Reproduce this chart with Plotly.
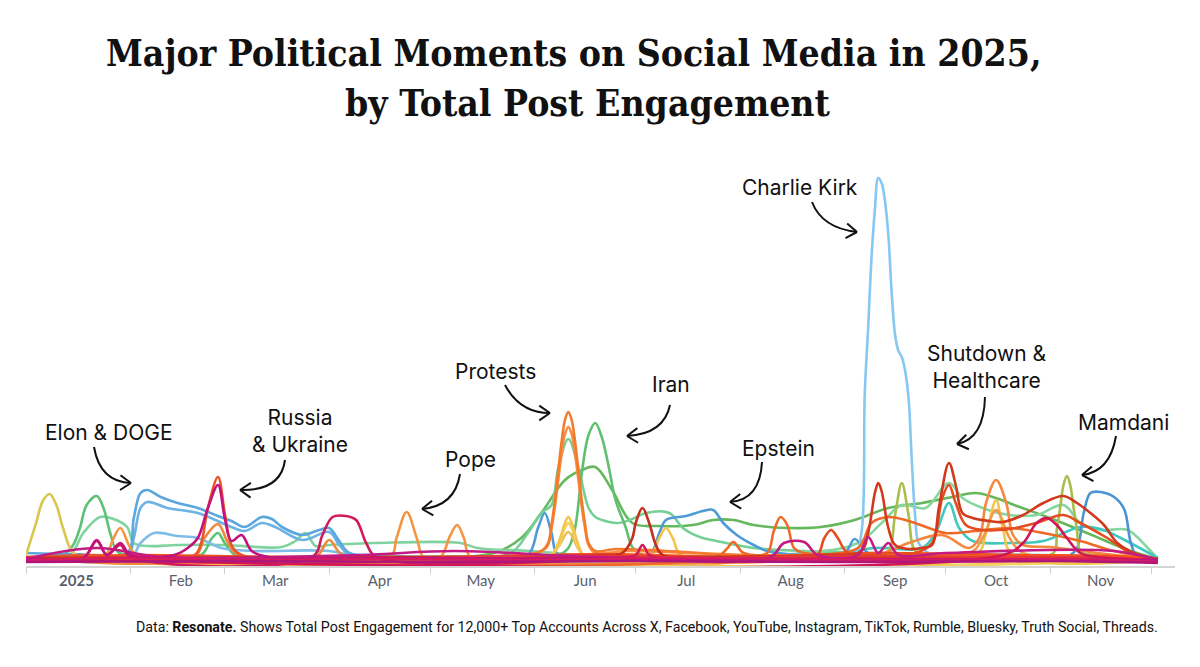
import math
import plotly.graph_objects as go

# ---- data: engagement index per topic (dates are 2025 "MM-DD") ----
kirk_d = ["01-01", "03-01", "05-01", "07-01", "08-20", "09-04", "09-06", "09-07", "09-08", "09-09", "09-10",
          "09-11", "09-12", "09-13", "09-14", "09-15", "09-16", "09-17", "09-18", "09-19", "09-20", "09-21",
          "09-22", "09-23", "09-26", "10-10", "11-10", "12-03"]
kirk_v = [5, 6, 5, 6, 6, 9, 30, 170, 235, 305, 353, 385, 380, 362, 328, 270, 228, 212, 206, 192, 165, 100,
          45, 20, 10, 9, 7, 3]

doge_a_d = ["01-01", "01-15", "01-31", "02-02", "02-04", "02-06", "02-10", "02-15", "02-21", "02-27", "03-03",
            "03-07", "03-12", "03-15", "03-18", "03-24", "03-29", "04-01", "04-04", "04-07", "04-20", "06-01",
            "09-01", "12-03"]
doge_a_v = [10, 9, 10, 45, 70, 73, 66, 60, 55, 47, 42, 36, 46, 44, 36, 28, 33, 35, 22, 10, 7, 6, 6, 3]
doge_b_d = ["01-01", "01-31", "02-02", "02-04", "02-06", "02-12", "02-21", "03-03", "03-07", "03-12", "03-16",
            "03-24", "04-01", "04-04", "04-08", "05-01", "12-03"]
doge_b_v = [6, 6, 25, 55, 61, 55, 50, 36, 32, 40, 36, 23, 31, 18, 6, 5, 3]
doge_c_d = ["01-01", "02-01", "02-04", "02-08", "02-15", "02-21", "02-28", "03-10", "04-01", "04-10", "05-01", "12-03"]
doge_c_v = [5, 5, 20, 30, 27, 25, 15, 12, 12, 6, 5, 3]

yellow_jan_d = ["01-01", "01-04", "01-06", "01-08", "01-10", "01-12", "01-15", "01-20", "03-01", "06-01", "12-03"]
yellow_jan_v = [8, 40, 62, 69, 58, 35, 10, 5, 4, 4, 2]

green_jan_d = ["01-01", "01-12", "01-15", "01-17", "01-19", "01-22", "01-24", "01-26", "01-28", "02-02", "02-22",
               "02-25", "02-27", "03-01", "03-05", "04-01", "12-03"]
green_jan_v = [5, 8, 18, 35, 58, 67, 55, 30, 12, 6, 8, 24, 30, 20, 6, 5, 3]

lgreen_jan_d = ["01-01", "01-14", "01-18", "01-23", "01-27", "01-31", "02-02", "02-06", "02-15", "03-01", "03-18",
                "03-22", "03-25", "03-28", "04-01", "04-15", "05-10", "05-15", "05-31", "06-15", "07-15", "12-03"]
lgreen_jan_v = [4, 8, 30, 46, 44, 36, 20, 17, 18, 18, 16, 22, 30, 17, 18, 20, 20, 15, 12, 8, 6, 3]

pope_d = ["01-01", "01-24", "01-27", "01-29", "02-01", "02-04", "04-19", "04-21", "04-24", "04-27", "04-29",
          "05-04", "05-07", "05-09", "05-11", "05-13", "06-01", "12-03"]
pope_v = [5, 6, 25, 35, 15, 5, 6, 25, 51, 25, 6, 6, 28, 38, 25, 6, 5, 3]

russia_d = ["01-01", "01-20", "02-20", "02-22", "02-24", "02-27", "03-01", "03-03", "03-06", "04-01", "12-03"]
russia_v = [6, 8, 8, 20, 55, 86, 50, 18, 8, 6, 3]
russia_mag_d = ["01-01", "01-18", "01-22", "01-25", "01-29", "02-01", "02-14", "02-18", "02-21", "02-24", "02-27",
                "03-01", "03-03", "03-06", "03-09", "03-14", "04-15", "12-03"]
russia_mag_v = [5, 5, 23, 8, 20, 8, 8, 15, 25, 55, 78, 45, 22, 28, 12, 6, 5, 3]
russia_or_d = ["01-01", "02-20", "02-23", "02-27", "03-02", "03-05", "03-28", "04-01", "04-05", "05-01", "12-03"]
russia_or_v = [5, 6, 25, 39, 20, 8, 6, 23, 8, 5, 3]

crimson_d = ["01-01", "01-18", "01-22", "01-25", "01-29", "02-01", "03-27", "03-30", "04-02", "04-06", "04-09",
             "04-12", "04-15", "06-25", "07-01", "07-03", "07-05", "07-08", "12-03"]
crimson_v = [4, 5, 22, 8, 18, 6, 6, 28, 46, 47, 43, 20, 6, 5, 8, 18, 8, 5, 3]

green_long_d = ["01-01", "05-01", "05-20", "05-28", "06-03", "06-10", "06-15", "06-19", "06-24", "06-30", "07-08",
                "07-18", "07-24", "07-30", "08-05", "08-15", "08-25", "09-04", "09-14", "09-24", "10-03", "10-10",
                "10-15", "10-23", "11-01", "11-12", "11-25", "12-03"]
green_long_v = [4, 6, 10, 25, 50, 83, 93, 96, 73, 40, 37, 38, 43, 43, 38, 35, 36, 43, 55, 60, 66, 70, 66, 56, 45,
                30, 12, 4]

iran_d = ["01-01", "05-01", "06-08", "06-11", "06-13", "06-15", "06-17", "06-19", "06-21", "06-23", "06-25",
          "06-28", "06-30", "07-03", "08-01", "12-03"]
iran_v = [4, 5, 8, 15, 35, 90, 128, 140, 125, 96, 63, 36, 16, 8, 5, 3]

protest1_d = ["01-01", "03-01", "05-01", "05-28", "06-03", "06-05", "06-06", "06-07", "06-08", "06-09", "06-10",
              "06-11", "06-12", "06-13", "06-14", "06-15", "06-16", "06-17", "06-19", "06-25", "07-10", "08-01",
              "09-01", "10-01", "11-01", "12-03"]
protest1_v = [5, 6, 6, 8, 12, 20, 38, 62, 92, 121, 143, 151, 143, 121, 92, 62, 38, 20, 12, 14, 12, 8, 8, 8, 6, 3]
protest2_d = ["01-01", "05-01", "05-30", "06-04", "06-05", "06-06", "06-07", "06-08", "06-09", "06-10", "06-11",
              "06-12", "06-13", "06-14", "06-15", "06-16", "06-17", "06-19", "06-28", "08-01", "10-01", "12-03"]
protest2_v = [5, 5, 8, 14, 18, 34, 56, 83, 109, 129, 136, 129, 109, 83, 56, 34, 18, 10, 12, 8, 7, 3]
protest_lg_d = ["01-01", "05-15", "05-25", "05-30", "06-03", "06-06", "06-08", "06-11", "06-14", "06-17", "06-19",
                "06-22", "06-26", "06-30", "07-04", "07-11", "07-15", "07-20", "07-25", "08-05", "08-20", "09-10",
                "12-03"]
protest_lg_v = [4, 6, 10, 30, 50, 58, 95, 124, 95, 55, 46, 42, 40, 44, 50, 50, 35, 26, 22, 15, 12, 10, 4]

yellow1_d = ["01-01", "06-05", "06-08", "06-10", "06-11", "06-12", "06-14", "06-16", "07-05", "07-08", "07-10",
             "07-12", "07-15", "10-10", "10-13", "10-16", "10-18", "10-21", "12-03"]
yellow1_v = [4, 6, 20, 40, 46, 40, 18, 6, 6, 25, 35, 25, 6, 8, 30, 63, 35, 8, 3]
yellow2_d = ["01-01", "06-05", "06-08", "06-10", "06-11", "06-12", "06-14", "06-16", "12-03"]
yellow2_v = [4, 6, 18, 35, 40, 35, 16, 6, 3]
yellow3_d = ["01-01", "06-05", "06-08", "06-11", "06-14", "06-16", "12-03"]
yellow3_v = [4, 6, 16, 31, 14, 6, 3]

darkred_d = ["01-01", "06-20", "06-27", "06-30", "07-01", "07-03", "07-05", "07-07", "07-09", "08-01", "12-03"]
darkred_v = [5, 8, 10, 25, 40, 55, 40, 18, 8, 6, 3]

epstein_d = ["01-01", "05-20", "05-30", "06-02", "06-04", "06-06", "06-08", "06-20", "07-05", "07-08", "07-10",
             "07-16", "07-21", "07-24", "07-27", "07-31", "08-05", "08-09", "08-20", "09-01", "09-04", "09-08",
             "09-15", "10-15", "12-03"]
epstein_v = [4, 5, 8, 35, 50, 30, 8, 6, 8, 30, 43, 47, 52, 53, 40, 28, 18, 12, 8, 10, 24, 10, 8, 6, 3]

blue_nov_d = ["01-01", "10-15", "11-06", "11-09", "11-11", "11-13", "11-16", "11-20", "11-23", "11-25", "11-27",
              "12-03"]
blue_nov_v = [4, 5, 6, 15, 50, 70, 71, 66, 54, 20, 6, 3]

shutdown_d = ["01-01", "03-01", "06-01", "08-25", "09-06", "09-08", "09-10", "09-11", "09-12", "09-14", "09-16",
              "09-20", "09-24", "09-27", "09-29", "10-02", "10-04", "10-06", "10-09", "10-14", "10-18", "10-24",
              "10-30", "11-05", "11-09", "11-13", "11-17", "11-21", "11-26", "12-03"]
shutdown_v = [5, 6, 6, 8, 12, 30, 70, 80, 72, 35, 18, 14, 15, 18, 55, 100, 78, 50, 45, 42, 41, 48, 60, 67, 60,
              50, 38, 20, 10, 4]
shutdown2_d = ["01-01", "08-20", "08-24", "08-26", "08-28", "08-30", "09-02", "09-15", "09-22", "09-27", "09-30",
               "10-02", "10-04", "10-07", "10-12", "10-20", "10-28", "11-05", "11-10", "11-18", "11-25", "12-03"]
shutdown2_v = [5, 6, 8, 25, 33, 25, 10, 10, 10, 20, 65, 78, 60, 38, 33, 34, 40, 48, 40, 25, 10, 4]

orange_aug_d = ["01-01", "07-25", "07-28", "07-30", "08-02", "08-09", "08-11", "08-13", "08-15", "08-17", "08-20",
                "09-05", "09-09", "09-14", "09-20", "09-26", "10-01", "10-10", "10-20", "10-30", "11-10", "11-20",
                "12-03"]
orange_aug_v = [5, 6, 14, 21, 10, 10, 32, 46, 38, 15, 10, 15, 40, 46, 42, 35, 30, 32, 35, 30, 22, 12, 4]

orange_oct_d = ["01-01", "09-10", "09-20", "09-30", "10-08", "10-11", "10-13", "10-16", "10-19", "10-21", "10-24",
                "11-01", "11-15", "12-03"]
orange_oct_v = [5, 8, 20, 28, 15, 25, 60, 83, 60, 28, 18, 16, 10, 3]
orange_oct2_d = ["01-01", "10-08", "10-12", "10-16", "10-20", "10-24", "12-03"]
orange_oct2_v = [5, 10, 25, 53, 25, 10, 3]

olive_d = ["01-01", "09-10", "09-14", "09-16", "09-18", "09-20", "09-22", "09-27", "10-20", "11-02", "11-03",
           "11-04", "11-05", "11-06", "11-07", "11-08", "11-09", "11-10", "11-14", "12-03"]
olive_v = [4, 8, 12, 48, 80, 48, 12, 8, 8, 10, 33, 55, 78, 87, 78, 55, 33, 12, 8, 3]

cyan_d = ["01-01", "08-20", "09-10", "09-24", "09-28", "10-02", "10-05", "10-09", "10-20", "10-30", "11-10",
          "11-16", "11-22", "12-03"]
cyan_v = [4, 6, 15, 15, 30, 60, 35, 22, 20, 22, 36, 34, 25, 5]

lgreen_fall_d = ["01-01", "08-20", "09-05", "09-12", "09-18", "09-25", "10-02", "10-06", "10-12", "10-20", "10-28",
                 "11-05", "11-10", "11-16", "11-24", "11-30", "12-03"]
lgreen_fall_v = [4, 10, 20, 40, 58, 55, 80, 65, 55, 48, 48, 58, 40, 33, 33, 15, 4]

crimson_oct_d = ["01-01", "10-18", "10-24", "10-28", "10-31", "11-03", "11-06", "11-10", "11-15", "12-03"]
crimson_oct_v = [4, 8, 20, 40, 45, 38, 25, 10, 6, 3]

magenta_d = ["01-01", "01-22", "02-10", "04-10", "05-08", "06-20", "08-10", "08-14", "08-20", "08-24", "09-05",
             "09-08", "09-11", "09-14", "09-17", "10-01", "11-20", "12-03"]
magenta_v = [4, 15, 6, 8, 12, 6, 6, 20, 21, 8, 8, 26, 10, 20, 8, 10, 12, 3]

base_red_d = ["01-01", "02-10", "03-20", "05-01", "06-10", "07-20", "09-01", "10-10", "11-20", "12-03"]
base_red_v = [3, 6, 4, 5, 8, 5, 7, 6, 5, 2]
base_pink_d = ["01-01", "01-25", "03-10", "04-20", "06-01", "07-10", "08-20", "10-01", "11-10", "12-03"]
base_pink_v = [2, 5, 3, 4, 3, 5, 4, 3, 4, 1]
base_orange_d = ["01-01", "02-01", "03-15", "05-10", "06-20", "08-01", "09-10", "10-20", "11-25", "12-03"]
base_orange_v = [4, 8, 6, 5, 9, 6, 10, 8, 6, 2]
base_mag_d = ["01-01", "03-01", "05-01", "07-01", "09-01", "11-01", "12-03"]
base_mag_v = [1, 2, 1, 2, 1, 2, 0]

month_starts = ["2025-%02d-01" % m for m in range(1, 13)]
label_dates = ["2025-%02d-16" % m for m in range(1, 12)]
month_labels = ["<b>2025</b>", "Feb", "Mar", "Apr", "May", "Jun", "Jul", "Aug", "Sep", "Oct", "Nov"]

# drawing order (back to front) and colours
series = [
    (green_long_d, green_long_v, "#66b85c"),
    (lgreen_jan_d, lgreen_jan_v, "#80d39e"),
    (green_jan_d, green_jan_v, "#5cc276"),
    (protest_lg_d, protest_lg_v, "#74d096"),
    (iran_d, iran_v, "#5fc070"),
    (lgreen_fall_d, lgreen_fall_v, "#86d6a0"),
    (cyan_d, cyan_v, "#3fc7c0"),
    (doge_c_d, doge_c_v, "#7dbde8"),
    (doge_b_d, doge_b_v, "#6cb2e4"),
    (doge_a_d, doge_a_v, "#5aa6de"),
    (epstein_d, epstein_v, "#4f9bd6"),
    (blue_nov_d, blue_nov_v, "#4a94d3"),
    (kirk_d, kirk_v, "#86c8f2"),
    (yellow_jan_d, yellow_jan_v, "#d9c651"),
    (olive_d, olive_v, "#a8bd4e"),
    (yellow3_d, yellow3_v, "#ecbc58"),
    (yellow2_d, yellow2_v, "#f6d35f"),
    (yellow1_d, yellow1_v, "#f2c64c"),
    (pope_d, pope_v, "#f59542"),
    (russia_or_d, russia_or_v, "#f0883d"),
    (orange_oct2_d, orange_oct2_v, "#f39a4a"),
    (orange_oct_d, orange_oct_v, "#f5873f"),
    (protest2_d, protest2_v, "#f68e44"),
    (protest1_d, protest1_v, "#f47a2c"),
    (orange_aug_d, orange_aug_v, "#ef6a29"),
    (base_orange_d, base_orange_v, "#f4511e"),
    (russia_d, russia_v, "#e8552a"),
    (shutdown2_d, shutdown2_v, "#e44d20"),
    (shutdown_d, shutdown_v, "#d2391c"),
    (darkred_d, darkred_v, "#c2301f"),
    (base_red_d, base_red_v, "#e53935"),
    (crimson_oct_d, crimson_oct_v, "#d11558"),
    (crimson_d, crimson_v, "#d01a5c"),
    (magenta_d, magenta_v, "#c41b82"),
    (russia_mag_d, russia_mag_v, "#c2127e"),
    (base_pink_d, base_pink_v, "#d81b60"),
    (base_mag_d, base_mag_v, "#b0157a"),
]

fig = go.Figure()
for d, v, c in series:
    fig.add_trace(go.Scatter(
        x=["2025-" + s for s in d], y=v, mode="lines",
        line=dict(color=c, width=2.6, shape="spline", smoothing=1.0),
        hoverinfo="skip"))

# plot area in screen pixels (page has an 8px body margin)
OFF = 8
L, T, W, H = 26, 150, 1149, 416
B = T + H


def pp(x, y):
    return (x - L) / W, (B - y) / H


annots = []
labels = [
    ("Charlie Kirk", 800, 187),
    ("Shutdown &<br>Healthcare", 987, 367),
    ("Mamdani", 1123, 422),
    ("Epstein", 778, 448),
    ("Iran", 671, 384),
    ("Protests", 495, 371),
    ("Pope", 470, 459),
    ("Russia<br>& Ukraine", 300, 431),
    ("Elon & DOGE", 109, 432),
]
for txt, x, y in labels:
    px_, py_ = pp(x, y)
    annots.append(dict(text=txt, x=px_, y=py_, xref="paper", yref="paper", showarrow=False,
                       xanchor="center", yanchor="middle",
                       font=dict(family="Inter", size=21, color="#111111")))

# title and footnote
for txt, x, y in [("Major Political Moments on Social Media in 2025,", 574, 53),
                  ("by Total Post Engagement", 588, 103)]:
    px_, py_ = pp(x, y)
    annots.append(dict(text="<b>" + txt + "</b>", x=px_, y=py_, xref="paper", yref="paper", showarrow=False,
                       xanchor="center", yanchor="middle",
                       font=dict(family="DejaVu Serif Condensed, DejaVu Serif", size=37, color="#111111")))
px_, py_ = pp(1160, 627)
annots.append(dict(text="Data: <b>Resonate.</b> Shows Total Post Engagement for 12,000+ Top Accounts Across X, "
                        "Facebook, YouTube, Instagram, TikTok, Rumble, Bluesky, Truth Social, Threads.",
                   x=px_, y=py_, xref="paper", yref="paper", showarrow=False, xanchor="right", yanchor="middle",
                   font=dict(family="Roboto", size=14.2, color="#111111")))

# hand-drawn style arrows: start, control, tip (screen pixels)
arrows = [
    ((94, 447), (100, 482), (131, 483)),
    ((285, 460), (281, 491), (240, 490)),
    ((460, 474), (455, 506), (422, 509)),
    ((505, 385), (520, 413), (550, 413)),
    ((670, 405), (664, 434), (627, 436)),
    ((762, 462), (760, 500), (730, 502)),
    ((812, 202), (822, 228), (857, 232)),
    ((985, 397), (984, 439), (957, 444)),
    ((1116, 436), (1110, 472), (1082, 475)),
]
shapes = []
for s, c, e in arrows:
    a, b_ = pp(*s)
    cx, cy = pp(*c)
    ex, ey = pp(*e)
    shapes.append(dict(type="path", xref="paper", yref="paper",
                       path=f"M {a},{b_} Q {cx},{cy} {ex},{ey}",
                       line=dict(color="#111111", width=2)))
    ang = math.atan2(e[1] - c[1], e[0] - c[0])
    for da in (0.6, -0.6):
        bx = e[0] - 13 * math.cos(ang + da)
        by = e[1] - 13 * math.sin(ang + da)
        qx, qy = pp(bx, by)
        shapes.append(dict(type="path", xref="paper", yref="paper",
                           path=f"M {qx},{qy} L {ex},{ey}",
                           line=dict(color="#111111", width=2)))

fig.update_layout(
    width=1200, height=667,
    margin=dict(l=L - OFF, r=1200 - (L - OFF) - W, t=T - OFF, b=667 - (B - OFF)),
    paper_bgcolor="white", plot_bgcolor="white",
    showlegend=False,
    annotations=annots,
    shapes=shapes,
    xaxis=dict(
        range=["2025-01-01", "2025-12-08 02:24"],
        tickmode="array", tickvals=label_dates, ticktext=month_labels,
        ticks="", showgrid=False, zeroline=False,
        showline=True, linecolor="#d4d4d4", linewidth=1.5,
        tickfont=dict(family="Lato", size=15, color="#5a5f6b"),
        minor=dict(tickmode="array", tickvals=month_starts, ticks="outside", ticklen=6,
                   tickcolor="#cfcfcf", tickwidth=1.2, showgrid=False),
    ),
    yaxis=dict(range=[-3, 413], visible=False),
)

fig.write_html("out.html")
